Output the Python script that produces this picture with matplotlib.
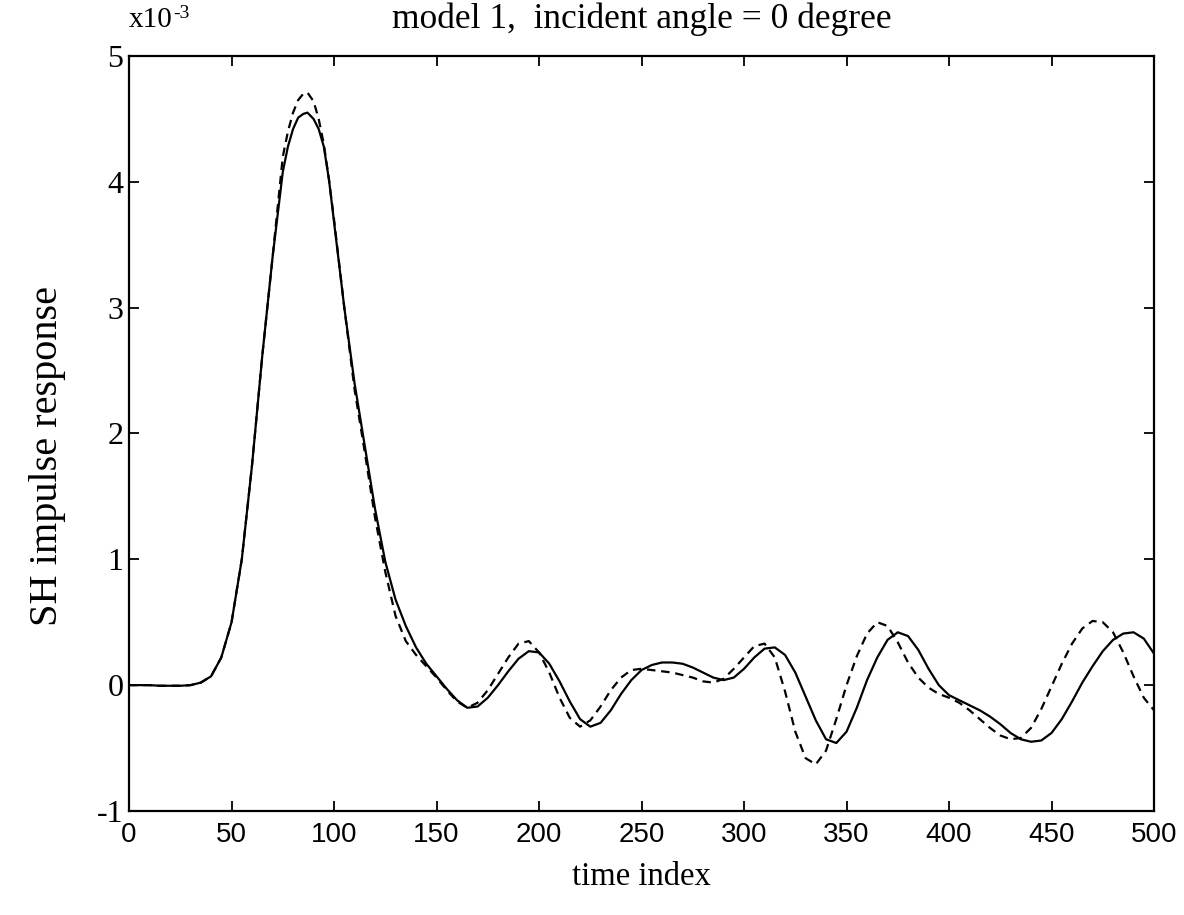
import matplotlib
matplotlib.use("Agg")
import matplotlib.pyplot as plt

# time index samples (every 5 steps plus the peak)
t = [0, 5, 10, 15, 20, 25, 30, 35, 40, 45, 50, 55, 60, 65, 70, 75, 77.5, 80,
     82.5, 85, 87, 90, 92.5, 95, 97.5, 100, 105, 110, 115, 120, 125, 130, 135,
     140, 145, 150, 155, 160, 165, 170, 175, 180, 185, 190, 195, 200, 205, 210,
     215, 220, 225, 230, 235, 240, 245, 250, 255, 260, 265, 270, 275, 280, 285,
     290, 295, 300, 305, 310, 315, 320, 325, 330, 335, 340, 345, 350, 355, 360,
     365, 370, 375, 380, 385, 390, 395, 400, 405, 410, 415, 420, 425, 430, 435,
     440, 445, 450, 455, 460, 465, 470, 475, 480, 485, 490, 495, 500]

# solid curve (x1e-3)
solid = [0, 0, 0, -0.005, -0.005, -0.005, 0.0, 0.02, 0.07, 0.22, 0.5, 1.0, 1.75,
         2.62, 3.4, 4.08, 4.28, 4.42, 4.51, 4.54, 4.55, 4.5, 4.42, 4.28, 4.02,
         3.68, 3.0, 2.4, 1.9, 1.4, 0.98, 0.68, 0.47, 0.3, 0.17, 0.07,
         -0.03, -0.12, -0.18, -0.17, -0.1, 0.0, 0.11, 0.21, 0.27, 0.26, 0.17,
         0.03, -0.13, -0.27, -0.33, -0.3, -0.2, -0.07, 0.04, 0.12, 0.16, 0.18,
         0.18, 0.17, 0.14, 0.1, 0.06, 0.04, 0.06, 0.13, 0.22, 0.29, 0.3, 0.24,
         0.1, -0.09, -0.28, -0.43, -0.46, -0.37, -0.18, 0.04, 0.22, 0.36, 0.42,
         0.39, 0.28, 0.13, 0.0, -0.08, -0.12, -0.16, -0.2, -0.25, -0.31, -0.38,
         -0.43, -0.45, -0.44, -0.38, -0.27, -0.13, 0.02, 0.15, 0.27, 0.36, 0.41,
         0.42, 0.37, 0.25]

# dashed curve (x1e-3)
dashed = [0, 0, 0, -0.005, -0.005, -0.005, 0.0, 0.02, 0.07, 0.22, 0.5, 1.0, 1.75,
          2.62, 3.4, 4.2, 4.4, 4.55, 4.65, 4.7, 4.71, 4.64, 4.5, 4.3, 4.02,
          3.7, 3.0, 2.35, 1.85, 1.33, 0.9, 0.55, 0.35, 0.24, 0.15,
          0.06, -0.04, -0.13, -0.18, -0.14, -0.04, 0.09, 0.22, 0.33, 0.35, 0.26,
          0.1, -0.1, -0.26, -0.33, -0.28, -0.17, -0.04, 0.06, 0.12, 0.13, 0.12,
          0.11, 0.1, 0.08, 0.06, 0.03, 0.02, 0.05, 0.13, 0.22, 0.31, 0.33, 0.22,
          -0.05, -0.37, -0.58, -0.63, -0.52, -0.27, 0.0, 0.23, 0.41, 0.5, 0.47,
          0.34, 0.18, 0.06, -0.02, -0.07, -0.1, -0.14, -0.2, -0.27, -0.34, -0.4,
          -0.43, -0.42, -0.34, -0.19, -0.01, 0.17, 0.33, 0.45, 0.51, 0.5, 0.42,
          0.26, 0.07, -0.1, -0.2]

xticks = [0, 50, 100, 150, 200, 250, 300, 350, 400, 450, 500]
yticks = [-1, 0, 1, 2, 3, 4, 5]

plt.rcParams['font.family'] = ['Liberation Serif', 'DejaVu Serif']

fig = plt.figure(figsize=(11.84, 9.15), dpi=100)
ax = fig.add_axes([0.109, 0.1137, 0.8657, 0.8251])

ax.plot(t, solid, color='black', lw=1.6)
ax.plot(t, dashed, color='black', lw=1.6, dashes=(3.8, 2.6))

ax.set_xlim(0, 500)
ax.set_ylim(-1, 5)
ax.set_xticks(xticks)
ax.set_yticks(yticks)
ax.set_xticklabels([str(v) for v in xticks], family='Liberation Sans', fontsize=20)
ax.set_yticklabels([str(v) for v in yticks], fontsize=23)
ax.tick_params(direction='in', length=7, width=1.3, top=True, right=True)
ax.tick_params(axis='x', pad=8)
ax.tick_params(axis='y', pad=4)
for s in ax.spines.values():
    s.set_linewidth(1.6)

ax.set_title('model 1,  incident angle = 0 degree', fontsize=25.5, pad=20)
ax.set_xlabel('time index', fontsize=23.5, labelpad=10)
ax.set_ylabel('SH impulse response', fontsize=29)
ax.yaxis.set_label_coords(-0.062, 0.47)

# exponent marker: "x10" with a raised "-3"
ax.annotate('x10', xy=(0.0, 1.03), xycoords='axes fraction',
            fontsize=21, ha='left', va='bottom')
ax.annotate('-3', xy=(0.0, 1.03), xycoords='axes fraction',
            xytext=(32, 8), textcoords='offset points',
            fontsize=14, ha='left', va='bottom')

fig.savefig('out.png', dpi=100)
